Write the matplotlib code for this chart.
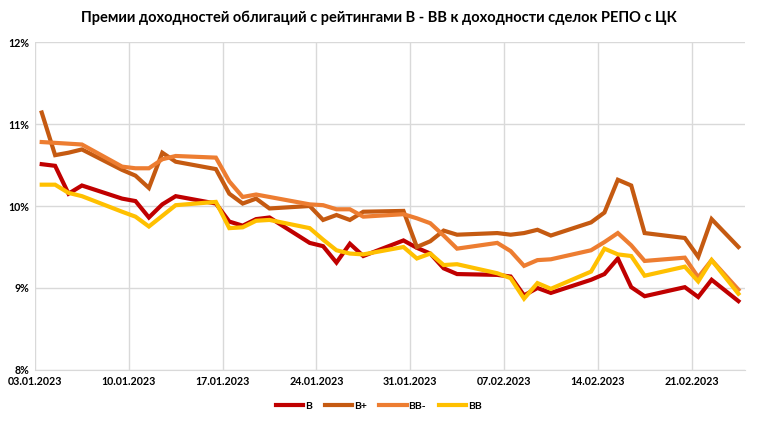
import matplotlib
matplotlib.use("Agg")
import matplotlib.pyplot as plt
import matplotlib.dates as mdates
import pandas as pd
from matplotlib.ticker import FuncFormatter

# trading days shown on the chart (23.02 is a holiday)
dates = ["03.01", "04.01", "05.01", "06.01",
         "09.01", "10.01", "11.01", "12.01", "13.01",
         "16.01", "17.01", "18.01", "19.01", "20.01",
         "23.01", "24.01", "25.01", "26.01", "27.01",
         "30.01", "31.01", "01.02", "02.02", "03.02",
         "06.02", "07.02", "08.02", "09.02", "10.02",
         "13.02", "14.02", "15.02", "16.02", "17.02",
         "20.02", "21.02", "22.02", "24.02"]

b = [10.51, 10.49, 10.15, 10.25,
     10.09, 10.06, 9.86, 10.02, 10.12,
     10.03, 9.81, 9.76, 9.84, 9.86,
     9.55, 9.51, 9.31, 9.54, 9.39,
     9.58, 9.49, 9.42, 9.24, 9.17,
     9.16, 9.14, 8.91, 9.00, 8.94,
     9.10, 9.17, 9.36, 9.01, 8.90,
     9.01, 8.89, 9.10, 8.84]

b_plus = [11.14, 10.62, 10.65, 10.69,
          10.44, 10.37, 10.22, 10.65, 10.54,
          10.45, 10.15, 10.03, 10.09, 9.97,
          10.00, 9.83, 9.89, 9.83, 9.93,
          9.94, 9.50, 9.57, 9.70, 9.65,
          9.67, 9.65, 9.67, 9.71, 9.64,
          9.80, 9.92, 10.32, 10.25, 9.67,
          9.61, 9.38, 9.84, 9.50]

bb_minus = [10.78, 10.77, 10.76, 10.75,
            10.48, 10.46, 10.46, 10.57, 10.61,
            10.59, 10.30, 10.11, 10.14, 10.11,
            10.02, 10.01, 9.96, 9.96, 9.87,
            9.90, 9.85, 9.79, 9.64, 9.48,
            9.55, 9.45, 9.27, 9.34, 9.35,
            9.46, 9.56, 9.67, 9.52, 9.33,
            9.37, 9.13, 9.34, 8.98]

bb = [10.26, 10.26, 10.16, 10.12,
      9.93, 9.87, 9.75, 9.88, 10.01,
      10.05, 9.73, 9.74, 9.82, 9.83,
      9.73, 9.59, 9.46, 9.42, 9.41,
      9.50, 9.36, 9.42, 9.28, 9.29,
      9.18, 9.12, 8.87, 9.06, 8.99,
      9.20, 9.48, 9.41, 9.39, 9.15,
      9.26, 9.08, 9.34, 8.93]

series = [("B", b, "#C00000"),
          ("B+", b_plus, "#C55A11"),
          ("BB-", bb_minus, "#ED7D31"),
          ("BB", bb, "#FFC000")]

x = pd.to_datetime([d + ".2023" for d in dates], format="%d.%m.%Y") + pd.Timedelta(hours=12)

plt.rcParams['font.family'] = ['Lato', 'DejaVu Sans']

fig = plt.figure(figsize=(7.58, 4.23), dpi=100)
ax = fig.add_axes([0.0462, 0.1253, 0.9368, 0.7754])

for name, vals, color in series:
    ax.plot(x, vals, color=color, lw=3.0, label=name, solid_joinstyle='miter')

ax.set_ylim(8, 12)
ax.set_yticks([8, 9, 10, 11, 12])
ax.yaxis.set_major_formatter(FuncFormatter(lambda v, p: "{:d}%".format(int(round(v)))))

start = pd.Timestamp("2023-01-03")
ax.set_xlim(start, pd.Timestamp("2023-02-25"))
ticks = [start + pd.Timedelta(days=7 * i) for i in range(8)]
ax.set_xticks(ticks)
ax.xaxis.set_major_formatter(mdates.DateFormatter("%d.%m.%Y"))

ax.grid(True, color="#D9D9D9", lw=1.0)
ax.set_axisbelow(True)
for s in ["top", "right", "left"]:
    ax.spines[s].set_visible(False)
ax.spines["bottom"].set_color("#D9D9D9")
ax.tick_params(length=0, labelsize=7.7, pad=4, colors="#000000")
for lbl in ax.get_xticklabels() + ax.get_yticklabels():
    lbl.set_fontweight("bold")

fig.suptitle("Премии доходностей облигаций с рейтингами B - BB к доходности сделок РЕПО с ЦК",
             x=0.5, y=0.975, fontsize=10.5, fontweight="bold")

leg = fig.legend(loc="center", bbox_to_anchor=(0.5, 0.04), ncol=4, frameon=False,
                 prop={"size": 7.5, "weight": "bold"}, handlelength=2.6,
                 columnspacing=1.2, handletextpad=0.2)

fig.savefig("out.png", dpi=100)
